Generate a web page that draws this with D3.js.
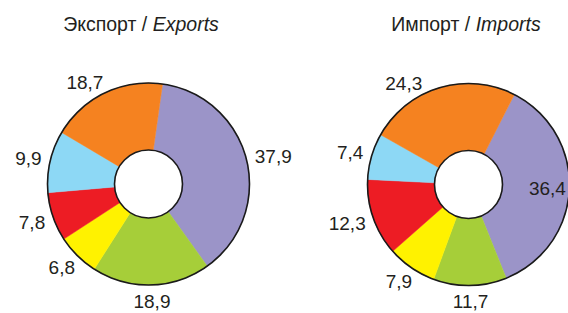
<!DOCTYPE html>
<html>
<head>
<meta charset="utf-8">
<script src="https://cdn.jsdelivr.net/npm/d3@7"></script>
<style>
  html, body { margin: 0; padding: 0; background: #fff; }
  svg { display: block; }
  text { font-family: "Liberation Sans", Arial, sans-serif; fill: #231f20; }
</style>
</head>
<body>
<svg id="chart" width="568" height="313"></svg>
<script>
// ---- data ----
const categories = ["cat1", "cat2", "cat3", "cat4", "cat5", "cat6"];
const exportValues = [37.9, 18.9, 6.8, 7.8, 9.9, 18.7];
const importValues = [36.4, 11.7, 7.9, 12.3, 7.4, 24.3];
const exportTitle = ["Экспорт", "Exports"];
const importTitle = ["Импорт", "Imports"];
const colors = ["#9b94c8", "#a6ce39", "#fff200", "#ed1c24", "#8dd8f5", "#f58220"];

// ---- layout ----
const W = 568, H = 313;
const svg = d3.select("#chart");
const outerR = 101, innerR = 34;
const labelGap = 9, insideR = 79;
const labelFont = 19;
const fmt = v => String(v).replace(".", ",");
const color = d3.scaleOrdinal().domain(categories).range(colors);
const TAU = 2 * Math.PI;

const charts = [
  { values: exportValues, title: exportTitle, cx: 148.5, cy: 184, start: 8, titleX: 141 },
  { values: importValues, title: importTitle, cx: 468.5, cy: 184.5, start: 27, titleX: 466 }
];

// label angle: mid-angle, but a slice crossing 12 o'clock is labelled
// at the middle of its larger part on one side of the top.
function labelAngle(d) {
  const s = d.startAngle, e = d.endAngle;
  if (s < TAU && e > TAU) {
    const left = TAU - s, right = e - TAU;
    return left >= right ? (s + TAU) / 2 : (TAU + e) / 2;
  }
  return (s + e) / 2;
}

charts.forEach(c => {
  const data = categories.map((k, i) => ({ key: k, value: c.values[i] }));
  const a0 = c.start * Math.PI / 180;
  const pie = d3.pie().value(d => d.value).sort(null)
    .startAngle(a0).endAngle(a0 + TAU);
  const arcs = pie(data);
  const arc = d3.arc().innerRadius(innerR).outerRadius(outerR);
  const g = svg.append("g").attr("transform", `translate(${c.cx},${c.cy})`);

  g.selectAll("path.slice").data(arcs).join("path")
    .attr("class", "slice")
    .attr("d", arc)
    .attr("fill", d => color(d.data.key))
    .attr("stroke", d => color(d.data.key))
    .attr("stroke-width", 0.5);

  g.append("circle").attr("r", outerR).attr("fill", "none")
    .attr("stroke", "#1a1a1a").attr("stroke-width", 1.6);
  g.append("circle").attr("r", innerR).attr("fill", "#fff")
    .attr("stroke", "#1a1a1a").attr("stroke-width", 1.6);

  g.selectAll("text.val").data(arcs).join("text")
    .attr("class", "val")
    .attr("text-anchor", "middle")
    .attr("dy", "0.36em")
    .style("font-size", labelFont + "px")
    .text(d => fmt(d.data.value))
    .each(function(d) {
      const a = labelAngle(d);
      const ux = Math.sin(a), uy = -Math.cos(a);
      const w = this.getComputedTextLength();
      const h = labelFont * 0.72;
      const R = outerR + labelGap;
      let x = R * ux + (w / 2) * ux;
      let y = R * uy + (h / 2) * uy;
      if (c.cx + x + w / 2 > W) {
        const m = (d.startAngle + d.endAngle) / 2;
        x = insideR * Math.sin(m);
        y = -insideR * Math.cos(m);
      }
      d3.select(this).attr("x", x).attr("y", y);
    });

  const t = svg.append("text")
    .attr("x", c.titleX).attr("y", 31)
    .attr("text-anchor", "middle")
    .style("font-size", "19.5px");
  t.append("tspan").text(c.title[0] + " / ");
  t.append("tspan").style("font-style", "italic").text(c.title[1]);
});
</script>
</body>
</html>
